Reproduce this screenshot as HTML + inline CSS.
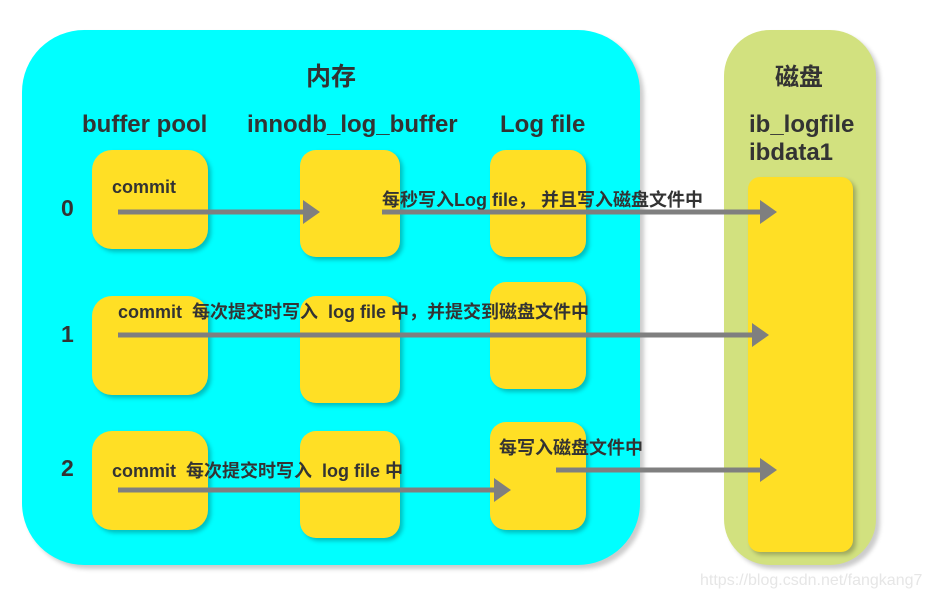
<!DOCTYPE html><html><head><meta charset="utf-8"><style>
body{margin:0;width:929px;height:601px;background:#fff;position:relative;overflow:hidden;font-family:"Liberation Sans","Noto Sans CJK SC",sans-serif;color:#333;font-weight:bold}
div{position:absolute}
.y{background:#ffdf25;border-radius:16px;box-shadow:3px 3px 4px rgba(0,0,0,.25)}
.t{white-space:nowrap}
</style></head><body>
<div style="left:22px;top:30px;width:618px;height:535px;background:#00ffff;border-radius:62px;box-shadow:4px 4px 4px #ccc"></div>
<div style="left:724px;top:30px;width:152px;height:535px;background:#d2e17f;border-radius:46px;box-shadow:4px 4px 4px #ccc"></div>
<div class="y" style="left:748px;top:177px;width:105px;height:375px;border-radius:12px"></div>
<div class="y" style="left:92px;top:150px;width:116px;height:99px;border-radius:20px"></div>
<div class="y" style="left:92px;top:296px;width:116px;height:99px;border-radius:20px"></div>
<div class="y" style="left:92px;top:431px;width:116px;height:99px;border-radius:20px"></div>
<div class="y" style="left:300px;top:150px;width:100px;height:107px"></div>
<div class="y" style="left:300px;top:296px;width:100px;height:107px"></div>
<div class="y" style="left:300px;top:431px;width:100px;height:107px"></div>
<div class="y" style="left:490px;top:150px;width:96px;height:107px"></div>
<div class="y" style="left:490px;top:282px;width:96px;height:107px"></div>
<div class="y" style="left:490px;top:422px;width:96px;height:108px"></div>
<div class="t" style="left:306px;top:57px;font-size:25px">内存</div>
<div class="t" style="left:775px;top:57px;font-size:24px">磁盘</div>
<div class="t" style="left:82px;top:111px;font-size:24px">buffer pool</div>
<div class="t" style="left:247px;top:111px;font-size:24px">innodb_log_buffer</div>
<div class="t" style="left:500px;top:111px;font-size:24px">Log file</div>
<div class="t" style="left:749px;top:111px;font-size:24px;line-height:28px">ib_logfile<br>ibdata1</div>
<div class="t" style="left:61px;top:195px;font-size:23px">0</div>
<div class="t" style="left:61px;top:321px;font-size:23px">1</div>
<div class="t" style="left:61px;top:455px;font-size:23px">2</div>
<div class="t" style="left:112px;top:177px;font-size:18px">commit</div>
<div class="t" style="left:382px;top:186px;font-size:18px">每秒写入Log file， 并且写入磁盘文件中</div>
<div class="t" style="left:118px;top:298px;font-size:18px">commit&nbsp; 每次提交时写入&nbsp; log file 中，并提交到磁盘文件中</div>
<div class="t" style="left:112px;top:457px;font-size:18px">commit&nbsp; 每次提交时写入&nbsp; log file 中</div>
<div class="t" style="left:499px;top:434px;font-size:18px">每写入磁盘文件中</div>
<svg style="position:absolute;left:0;top:0" width="929" height="601" fill="#7f7f7f" stroke="#7f7f7f">
<line x1="118" y1="212" x2="306" y2="212" stroke-width="5"/><polygon points="303,200 320,212 303,224" stroke="none"/>
<line x1="382" y1="212" x2="763" y2="212" stroke-width="5"/><polygon points="760,200 777,212 760,224" stroke="none"/>
<line x1="118" y1="335" x2="755" y2="335" stroke-width="5"/><polygon points="752,323 769,335 752,347" stroke="none"/>
<line x1="118" y1="490" x2="497" y2="490" stroke-width="5"/><polygon points="494,478 511,490 494,502" stroke="none"/>
<line x1="556" y1="470" x2="763" y2="470" stroke-width="5"/><polygon points="760,458 777,470 760,482" stroke="none"/>
</svg>
<div class="t" style="left:700px;top:572px;font-size:16px;font-weight:normal;color:#e6e6e6">https://blog.csdn.net/fangkang7</div>
</body></html>
